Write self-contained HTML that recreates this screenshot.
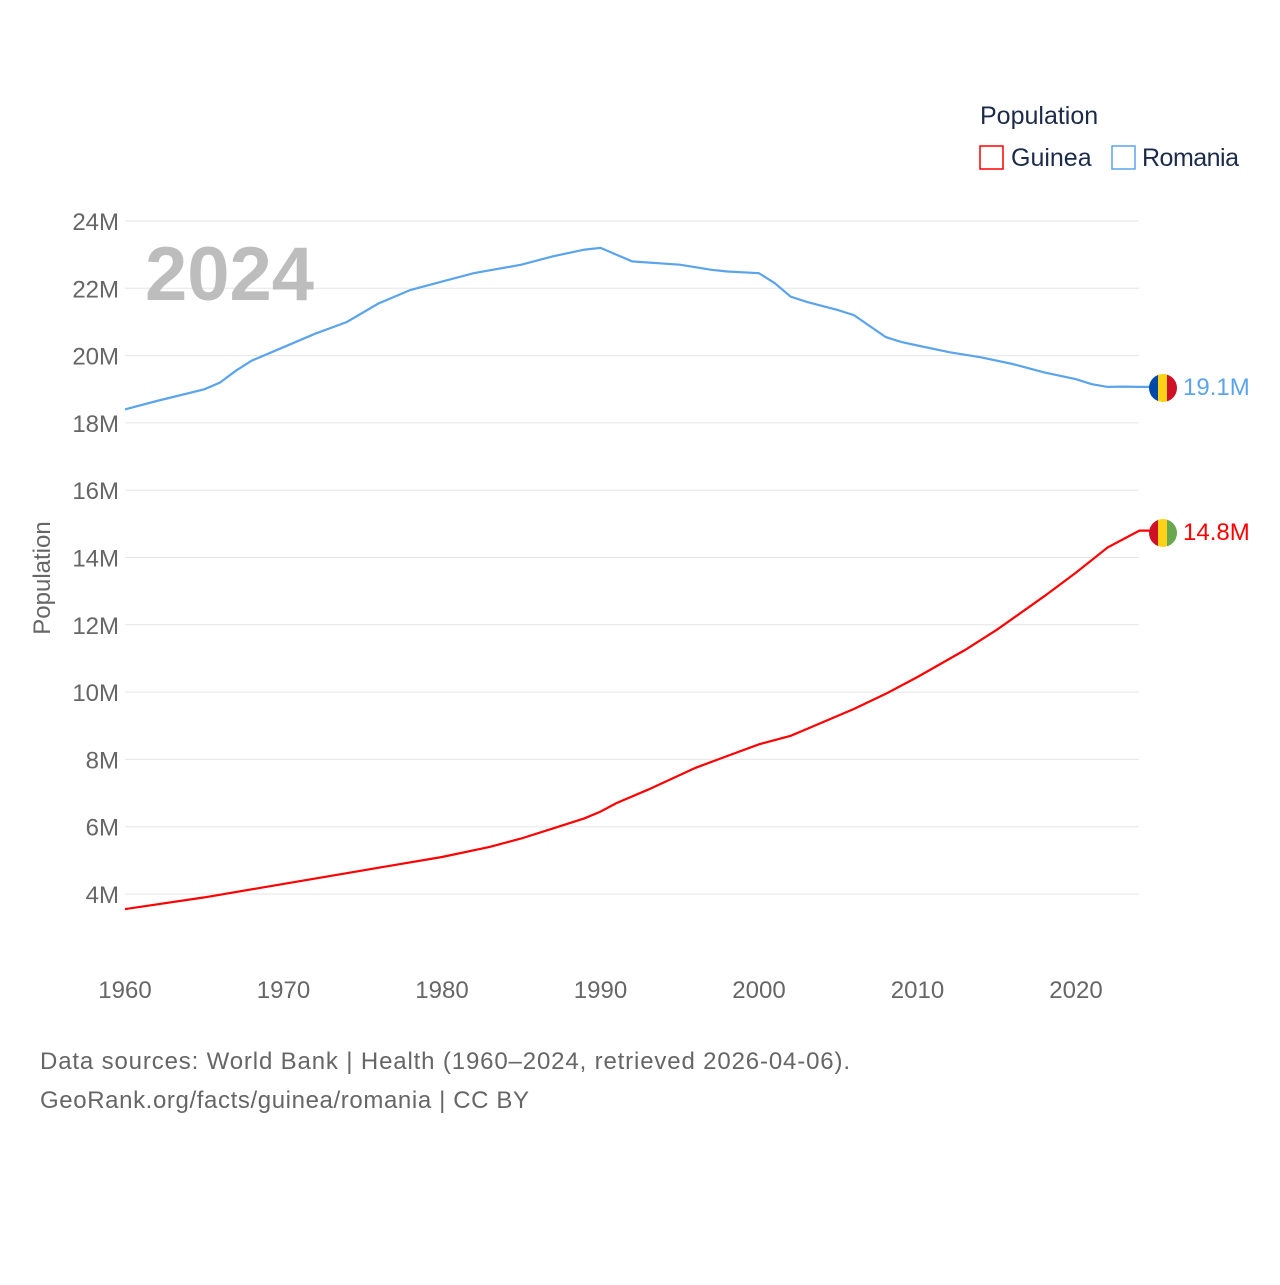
<!DOCTYPE html>
<html><head><meta charset="utf-8"><style>
body{margin:0;background:#fff;}
svg text{font-family:"Liberation Sans",sans-serif;}
</style></head><body>
<svg id="chart" width="1280" height="1280" viewBox="0 0 1280 1280">
<defs>
<clipPath id="cRo"><circle cx="1163" cy="388" r="14"/></clipPath>
<clipPath id="cGu"><circle cx="1163" cy="533" r="14"/></clipPath>
</defs>
<g id="grid"></g>
<g id="yticks"></g>
<g id="xticks"></g>
<text x="50" y="578" font-size="24" fill="#666" text-anchor="middle" transform="rotate(-90 50 578)">Population</text>
<text x="145" y="300" font-size="76" font-weight="bold" fill="#bdbdbd">2024</text>
<text x="980" y="124" font-size="25" fill="#1c2b4a">Population</text>
<g><rect x="980" y="146" width="23" height="23" fill="none" stroke="#ff0000" stroke-width="1.5"/><text x="1011" y="166" font-size="25" fill="#1c2b4a">Guinea</text></g>
<g><rect x="1112" y="146" width="23" height="23" fill="none" stroke="#5ba4ec" stroke-width="1.5"/><text x="1142" y="166" font-size="25" fill="#1c2b4a" textLength="97">Romania</text></g>
<path id="roLine" fill="none" stroke="#5ba4ec" stroke-width="2.2"/>
<path id="guLine" fill="none" stroke="#ff0000" stroke-width="2.2"/>
<g clip-path="url(#cRo)"><rect x="1149" y="374" width="10" height="28" fill="#0049a8"/><rect x="1158" y="374" width="10" height="28" fill="#fcd116"/><rect x="1167" y="374" width="10" height="28" fill="#ce1126"/></g>
<g clip-path="url(#cGu)"><rect x="1149" y="519" width="10" height="28" fill="#ce1126"/><rect x="1158" y="519" width="10" height="28" fill="#fcd116"/><rect x="1167" y="519" width="10" height="28" fill="#6aa84f"/></g>
<text x="1183" y="395" font-size="24" fill="#5ba4ec">19.1M</text>
<text x="1183" y="540" font-size="24" fill="#ff0000">14.8M</text>
<text x="40" y="1069" font-size="24" fill="#666" textLength="810">Data sources: World Bank | Health (1960–2024, retrieved 2026-04-06).</text>
<text x="40" y="1108" font-size="24" fill="#666" textLength="489">GeoRank.org/facts/guinea/romania | CC BY</text>
</svg>
<script>
const yTicks=[4,6,8,10,12,14,16,18,20,22,24];
const xTicks=[1960,1970,1980,1990,2000,2010,2020];
const roYears=[1960,1962,1965,1966,1967,1968,1970,1972,1974,1976,1978,1980,1982,1985,1987,1989,1990,1992,1995,1997,1998,2000,2001,2002,2003,2005,2006,2008,2009,2010,2012,2014,2016,2018,2020,2021,2022,2023,2024];
const roVals=[18.4,18.65,19.0,19.2,19.55,19.85,20.25,20.65,21.0,21.55,21.95,22.2,22.45,22.7,22.95,23.15,23.2,22.8,22.7,22.55,22.5,22.45,22.15,21.75,21.6,21.35,21.2,20.55,20.4,20.3,20.1,19.95,19.75,19.5,19.3,19.15,19.07,19.08,19.07];
const guYears=[1960,1965,1970,1975,1980,1983,1985,1987,1989,1990,1991,1993,1996,1998,2000,2002,2003,2006,2008,2010,2013,2015,2018,2020,2022,2024];
const guVals=[3.55,3.9,4.3,4.7,5.1,5.4,5.65,5.95,6.25,6.45,6.7,7.1,7.75,8.1,8.45,8.7,8.9,9.5,9.95,10.45,11.25,11.85,12.85,13.55,14.3,14.8];
const X=y=>125+(y-1960)*(1076-125)/60;
const Y=v=>894-(v-4)*(894-221)/20;
const NS="http://www.w3.org/2000/svg";
const grid=document.getElementById('grid'),yt=document.getElementById('yticks'),xt=document.getElementById('xticks');
yTicks.forEach(t=>{
 const l=document.createElementNS(NS,'line');
 l.setAttribute('x1',125);l.setAttribute('x2',1139);l.setAttribute('y1',Y(t));l.setAttribute('y2',Y(t));
 l.setAttribute('stroke','#e6e6e6');l.setAttribute('stroke-width','1');
 
 
 grid.appendChild(l);
 const tx=document.createElementNS(NS,'text');
 tx.setAttribute('x',119);tx.setAttribute('y',Y(t)+9);tx.setAttribute('text-anchor','end');
 tx.setAttribute('font-size','24');tx.setAttribute('fill','#666');tx.textContent=t+'M';
 
 
 yt.appendChild(tx);
});
xTicks.forEach(t=>{
 const tx=document.createElementNS(NS,'text');
 tx.setAttribute('x',X(t));tx.setAttribute('y',998);tx.setAttribute('text-anchor','middle');
 tx.setAttribute('font-size','24');tx.setAttribute('fill','#666');tx.textContent=t;
 
 
 xt.appendChild(tx);
});
function path(ys,vs){return ys.map((y,i)=>(i?'L':'M')+X(y).toFixed(1)+','+Y(vs[i]).toFixed(1)).join('');}
const last=(ys,vs)=>'L'+(X(ys[ys.length-1])+10).toFixed(1)+','+Y(vs[vs.length-1]).toFixed(1);
document.getElementById('roLine').setAttribute('d',path(roYears,roVals)+last(roYears,roVals));
document.getElementById('guLine').setAttribute('d',path(guYears,guVals)+last(guYears,guVals));
</script>
</body></html>
